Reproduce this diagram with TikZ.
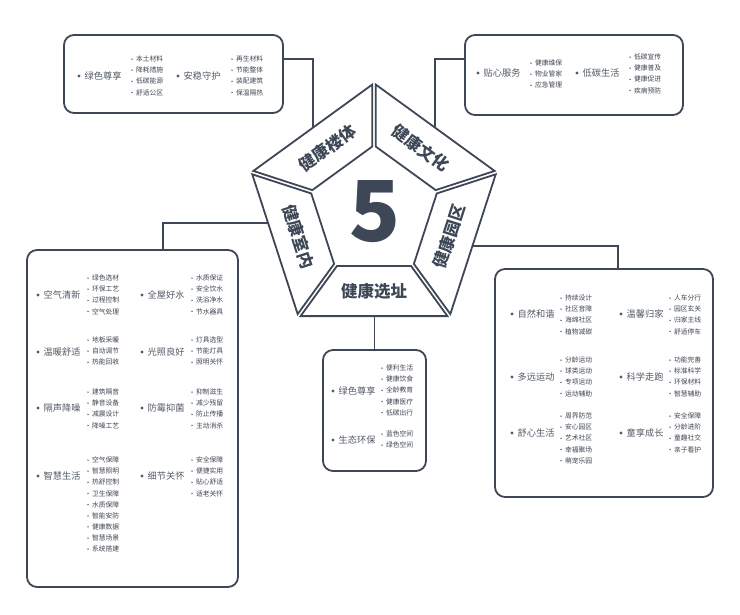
\documentclass[tikz,border=0pt]{standalone}
\usepackage{fontspec}
\setmainfont{Noto Sans CJK SC}
\definecolor{ink}{HTML}{3E4756}
\definecolor{labc}{HTML}{525A66}
\definecolor{subc}{HTML}{3E4652}
\tikzset{
  box/.style={draw=ink, line width=1.8pt, rounded corners=10pt, fill=white, inner sep=0pt, outer sep=0pt},
  conn/.style={draw=ink, line width=1.8pt},
  piece/.style={draw=ink, line width=1.8pt, fill=white, line join=miter},
  plab/.style={text=ink, font=\bfseries\fontsize{16.5}{17}\selectfont, inner sep=0pt},
  lab/.style={anchor=west, inner sep=0pt, text=labc, font=\fontsize{9.2}{10}\selectfont},
  sublab/.style={anchor=west, inner sep=0pt, text=subc, font=\fontsize{6.8}{7}\selectfont},
}
\newcommand\grp[7]{%
  \fill[labc] ({#2},{#3}) circle (1.7);
  \node[lab] (#1) at ({#2+5.5},{#3}) {#4};
  \foreach \t [count=\k from 0] in {#7} {
    \fill[subc] ({#5},{#6+11.15*\k}) circle (0.75);
    \node[sublab] (#1-\k) at ({#5+3.8},{#6+11.15*\k}) {\t};
  }%
}
\begin{document}
\begin{tikzpicture}[x=1pt,y=-1pt]
\useasboundingbox (0,0) rectangle (740,614);
% boxes
\node[box, minimum width=219pt, minimum height=78pt] (tl) at (173.5,74) {};
\node[box, minimum width=218pt, minimum height=80pt] (tr) at (574,75) {};
\node[box, minimum width=211pt, minimum height=337pt] (lb) at (132.5,418.5) {};
\node[box, minimum width=103pt, minimum height=121pt] (bb) at (374.5,410.5) {};
\node[box, minimum width=218pt, minimum height=228pt] (rb) at (604,383) {};
% connector end points inside the pentagon pieces
\coordinate (c1) at (313,138);
\coordinate (c2) at (435,138);
\coordinate (c3) at (277,223);
\coordinate (c4) at (462,246);
\coordinate (c5) at (374.5,305);
\draw[conn] ([yshift=-24pt]tl.north east) -| (c1);
\draw[conn] ([yshift=-24pt]tr.north west) -| (c2);
\draw[conn] (c3) -| ([xshift=30.5pt]lb.north);
\draw[conn] (c4) -| ([xshift=14pt]rb.north);
\draw[conn] (c5) -- (bb.north);
% pentagon
\begin{scope}[shift={(374,212)}, yscale=-1]
\foreach \n/\rot/\txt/\nm in {126/36/健康楼体/pa, 198/-72/健康室内/pb, 270/0/健康选址/pc, 342/72/健康园区/pd, 54/-36/健康文化/pe} {
  \draw[piece, shift={(\n:3)}] (\n-36:125) -- (\n+36:125) -- (\n+36:63) -- (\n-36:63) -- cycle;
  \node[plab, rotate=\rot] (\nm) at (\n:79) {\txt};
}
\node[text=ink, font=\bfseries\fontsize{84}{84}\selectfont, inner sep=0pt] (five) at (1,0) {5};
\end{scope}
% top-left box
\grp{A1}{79}{76}{绿色尊享}{132}{59}{本土材料,降耗措施,低碳能源,舒适公区}
\grp{A2}{178}{76}{安稳守护}{232}{59}{再生材料,节能整体,装配建筑,保温隔热}
% top-right box
\grp{B1}{478}{73}{贴心服务}{531}{63}{健康维保,物业管家,应急管理}
\grp{B2}{577}{73}{低碳生活}{630}{57}{低碳宣传,健康普及,健康促进,疾病预防}
% left box
\grp{C1}{38}{295}{空气清新}{88}{278}{绿色选材,环保工艺,过程控制,空气处理}
\grp{C2}{142}{295}{全屋好水}{192}{278}{水质保证,安全饮水,洗浴净水,节水器具}
\grp{C3}{38}{352}{温暖舒适}{88}{340}{地板采暖,自动调节,热能回收}
\grp{C4}{142}{352}{光照良好}{192}{340}{灯具选型,节能灯具,照明关怀}
\grp{C5}{38}{408}{隔声降噪}{88}{392}{建筑隔音,静音设备,减震设计,降噪工艺}
\grp{C6}{142}{408}{防霉抑菌}{192}{392}{抑制滋生,减少残留,防止传播,主动消杀}
\grp{C7}{38}{476}{智慧生活}{88}{460}{空气保障,智慧照明,热舒控制,卫生保障,水质保障,智能安防,健康数据,智慧场景,系统搭建}
\grp{C8}{142}{476}{细节关怀}{192}{460}{安全保障,便捷实用,贴心舒适,适老关怀}
% bottom box
\grp{D1}{333}{391}{绿色尊享}{382}{368}{便利生活,健康饮食,全龄教育,健康医疗,低碳出行}
\grp{D2}{333}{440}{生态环保}{382}{434}{蓝色空间,绿色空间}
% right box
\grp{E1}{512}{314}{自然和谐}{561}{298}{持续设计,社区音障,海绵社区,植物减碳}
\grp{E2}{621}{314}{温馨归家}{670}{298}{人车分行,园区玄关,归家主线,舒适停车}
\grp{E3}{512}{377}{多远运动}{561}{360}{分龄运动,球类运动,专项运动,运动辅助}
\grp{E4}{621}{377}{科学走跑}{670}{360}{功能完善,标准科学,环保材料,智慧辅助}
\grp{E5}{512}{433}{舒心生活}{561}{416}{周界防范,安心园区,艺术社区,幸福聚场,萌宠乐园}
\grp{E6}{621}{433}{童享成长}{670}{416}{安全保障,分龄进阶,童趣社交,亲子看护}
\end{tikzpicture}
\end{document}
